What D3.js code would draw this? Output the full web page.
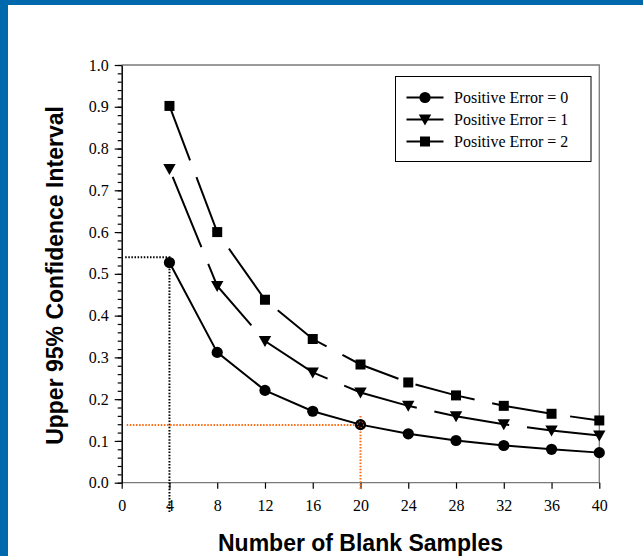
<!DOCTYPE html>
<html>
<head>
<meta charset="utf-8">
<script src="https://cdn.jsdelivr.net/npm/d3@7"></script>
<style>
  body { margin: 0; background: #fff; }
  svg { display: block; }
  .tick text { font-family: "Liberation Serif", "Times New Roman", serif; font-size: 16px; fill: #000; }
  .lbl { font-family: "Liberation Sans", Arial, sans-serif; font-weight: bold; font-size: 23px; fill: #000; }
  .leg { font-family: "Liberation Serif", "Times New Roman", serif; font-size: 16px; fill: #000; }
</style>
</head>
<body>
<div id="chart"></div>
<script>
// data
var samples = [4, 8, 12, 16, 20, 24, 28, 32, 36, 40];
var err0 = [0.527, 0.312, 0.221, 0.171, 0.139, 0.117, 0.101, 0.089, 0.080, 0.072];
var err1 = [0.751, 0.471, 0.339, 0.264, 0.216, 0.184, 0.159, 0.140, 0.125, 0.113];
var err2 = [0.902, 0.600, 0.438, 0.344, 0.283, 0.240, 0.209, 0.184, 0.165, 0.149];
var series_names = ['Positive Error = 0', 'Positive Error = 1', 'Positive Error = 2'];
var x_ticks = [0, 4, 8, 12, 16, 20, 24, 28, 32, 36, 40];
var y_ticks = [0, 0.1, 0.2, 0.3, 0.4, 0.5, 0.6, 0.7, 0.8, 0.9, 1.0];
// reference guides: n=4 -> 0.54, n=20 -> 0.138
var guide_black = {n: 4, v: 0.54};
var guide_orange = {n: 20, v: 0.138};

var W = 643, H = 556;
var svg = d3.select('#chart').append('svg').attr('width', W).attr('height', H);

// blue frame on the left and top
svg.append('rect').attr('x', 0).attr('y', 0).attr('width', W).attr('height', 5).attr('fill', '#0068AC');
svg.append('rect').attr('x', 0).attr('y', 0).attr('width', 8).attr('height', H).attr('fill', '#0068AC');

var x = d3.scaleLinear().domain([0, 40]).range([121.7, 599.3]);
var y = d3.scaleLinear().domain([0, 1]).range([482.7, 65]);

// plot frame (top, right, bottom in grey)
svg.append('path')
    .attr('d', 'M' + x(0) + ',' + y(1) + 'H' + x(40) + 'V' + y(0) + 'H' + x(0))
    .attr('fill', 'none').attr('stroke', '#7a7a7a').attr('stroke-width', 1.3);

// y axis: minor then major
svg.append('g').attr('transform', 'translate(' + x(0) + ',0)')
    .call(d3.axisLeft(y).tickValues(d3.range(0, 1.001, 0.02)).tickSize(4).tickFormat(''))
    .call(g => g.select('.domain').remove())
    .selectAll('line').attr('stroke', '#000').attr('stroke-width', 1.2);
var ya = svg.append('g').attr('transform', 'translate(' + x(0) + ',0)')
    .call(d3.axisLeft(y).tickValues(y_ticks).tickSize(7).tickPadding(6).tickSizeOuter(0).tickFormat(d3.format('.1f')));
ya.select('.domain').attr('stroke', '#000').attr('stroke-width', 1.5);
ya.selectAll('line').attr('stroke', '#000').attr('stroke-width', 1.2);
ya.attr('font-size', null).attr('font-family', null);

// x axis ticks
var xa = svg.append('g').attr('transform', 'translate(0,' + y(0) + ')')
    .call(d3.axisBottom(x).tickValues(x_ticks).tickSize(6).tickPadding(11).tickFormat(d3.format('d')));
xa.select('.domain').remove();
xa.selectAll('line').attr('stroke', '#000').attr('stroke-width', 1.2);
xa.attr('font-size', null).attr('font-family', null);

// dotted guide lines
var dot = '1.5,1.6';
svg.append('path')
    .attr('d', 'M' + (x(0) + 3.5) + ',' + y(guide_black.v) + 'H' + x(guide_black.n) + 'V' + 512)
    .attr('fill', 'none').attr('stroke', '#000').attr('stroke-width', 2).attr('stroke-dasharray', dot);
svg.append('path')
    .attr('d', 'M' + (x(0) + 5) + ',' + y(guide_orange.v) + 'H' + x(guide_orange.n))
    .attr('fill', 'none').attr('stroke', '#FF6A10').attr('stroke-width', 2).attr('stroke-dasharray', dot);
svg.append('path')
    .attr('d', 'M' + x(guide_orange.n) + ',' + (y(guide_orange.v) - 9) + 'V' + 489)
    .attr('fill', 'none').attr('stroke', '#FF6A10').attr('stroke-width', 2).attr('stroke-dasharray', dot);

var line = d3.line().x(d => x(d[0])).y(d => y(d[1]));
var all_series = [
    {values: err0, dash: null, offset: 0, shape: 'circle'},
    {values: err1, dash: '76,18', offset: 85.5, shape: 'triangle'},
    {values: err2, dash: '61,18', offset: 2.8, shape: 'square'}
];

function draw_marker(g, shape, cx, cy) {
    if (shape == 'circle') {
        g.append('circle').attr('cx', cx).attr('cy', cy).attr('r', 5.6).attr('fill', '#000');
    } else if (shape == 'square') {
        g.append('rect').attr('x', cx - 5).attr('y', cy - 5).attr('width', 10).attr('height', 10).attr('fill', '#000');
    } else {
        g.append('path').attr('d', 'M' + (cx - 6.2) + ',' + (cy - 5) + 'H' + (cx + 6.2) + 'L' + cx + ',' + (cy + 6) + 'Z').attr('fill', '#000');
    }
}

all_series.forEach(function (s) {
    var pts = samples.map((n, i) => [n, s.values[i]]);
    var p = svg.append('path').attr('d', line(pts))
        .attr('fill', 'none').attr('stroke', '#000').attr('stroke-width', 2);
    if (s.dash) p.attr('stroke-dasharray', s.dash).attr('stroke-dashoffset', s.offset);
    var g = svg.append('g');
    pts.forEach(d => draw_marker(g, s.shape, x(d[0]), y(d[1])));
});

// orange ring on the 20-sample point
svg.append('circle').attr('cx', x(guide_orange.n)).attr('cy', y(err0[4])).attr('r', 3)
    .attr('fill', 'none').attr('stroke', '#FF6A10').attr('stroke-width', 1).attr('stroke-dasharray', '1.5,1.5');

// legend
var leg = svg.append('g');
leg.append('rect').attr('x', 395.5).attr('y', 76.5).attr('width', 195.5).attr('height', 85)
    .attr('fill', '#fff').attr('stroke', '#000').attr('stroke-width', 1);
var rows = [97.5, 119.5, 141.5];
['circle', 'triangle', 'square'].forEach(function (shape, i) {
    leg.append('line').attr('x1', 406.5).attr('x2', 443.5).attr('y1', rows[i]).attr('y2', rows[i])
        .attr('stroke', '#000').attr('stroke-width', 2);
    draw_marker(leg, shape, 425, rows[i]);
    leg.append('text').attr('class', 'leg').attr('x', 454).attr('y', rows[i] + 5).text(series_names[i]);
});

// axis titles
svg.append('text').attr('class', 'lbl').attr('x', x(20)).attr('y', 551)
    .attr('text-anchor', 'middle').text('Number of Blank Samples');
svg.append('text').attr('class', 'lbl').attr('transform', 'translate(63,275.5) rotate(-90)')
    .attr('text-anchor', 'middle').text('Upper 95% Confidence Interval');
</script>
</body>
</html>
